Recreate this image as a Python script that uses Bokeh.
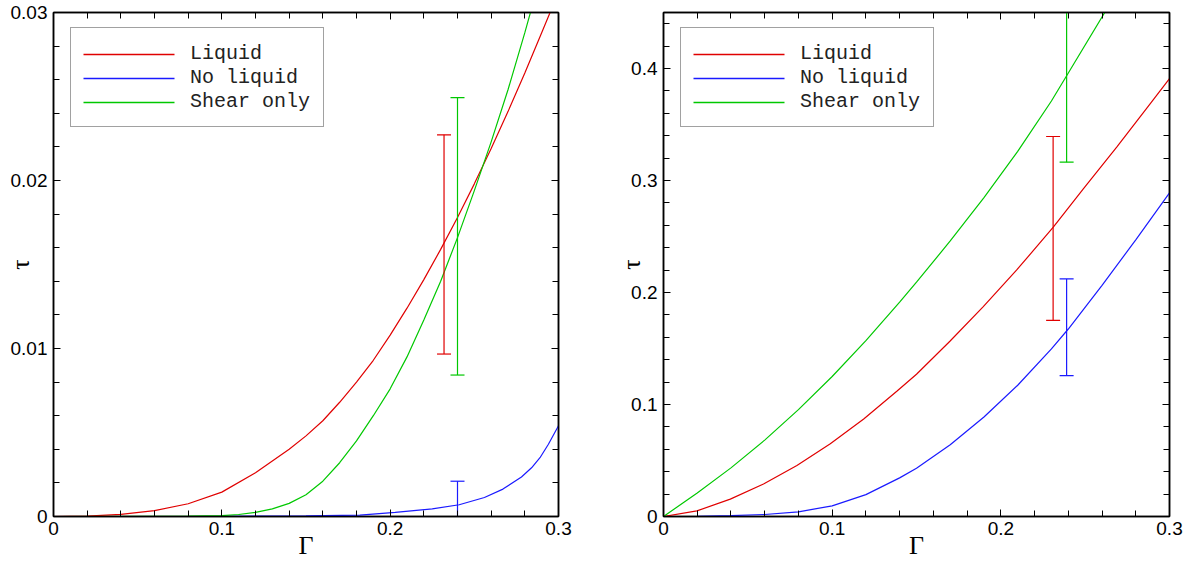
from bokeh.plotting import figure
from bokeh.layouts import row
from bokeh.models import (LinearAxis, FixedTicker, CustomJSTickFormatter,
                          Range1d, Legend, LegendItem, Arrow)
from bokeh.embed import file_html
from bokeh.resources import INLINE

# ---------------- data ----------------
# Left panel
left_liquid_g = [0.0, 0.02, 0.04, 0.06, 0.08, 0.10, 0.12, 0.14, 0.15, 0.16, 0.17,
                 0.18, 0.19, 0.20, 0.21, 0.22, 0.23, 0.24, 0.25, 0.26, 0.27, 0.28,
                 0.29, 0.30]
left_liquid_t = [0.0, 0.00002, 0.00013, 0.00035, 0.00076, 0.00145, 0.0026, 0.0040,
                 0.0048, 0.0057, 0.0068, 0.0080, 0.0093, 0.0108, 0.0124, 0.0141,
                 0.0159, 0.0178, 0.0198, 0.0219, 0.0241, 0.0264, 0.0288, 0.0312]

left_noliq_g = [0.0, 0.10, 0.15, 0.182, 0.203, 0.225, 0.241, 0.256, 0.267, 0.278,
                0.284, 0.289, 0.294, 0.30]
left_noliq_t = [0.0, 0.00001, 0.00004, 0.00008, 0.00024, 0.00045, 0.0007, 0.00113,
                0.00163, 0.00235, 0.0029, 0.0035, 0.0043, 0.0054]

left_shear_g = [0.0, 0.06, 0.08, 0.10, 0.11, 0.12, 0.13, 0.14, 0.15, 0.16, 0.17, 0.18,
                0.19, 0.20, 0.21, 0.22, 0.23, 0.24, 0.25, 0.26, 0.27, 0.28, 0.29]
left_shear_t = [0.0, 0.00001, 0.00002, 0.00005, 0.00012, 0.00025, 0.00045, 0.00078,
                0.0013, 0.0021, 0.0032, 0.0045, 0.0060, 0.0076, 0.0095, 0.0117,
                0.0140, 0.0166, 0.0194, 0.0223, 0.0254, 0.0288, 0.0324]

# error bars: gamma, lower, upper  (Liquid, No liquid, Shear only)
left_err_g = [0.232, 0.240, 0.240]
left_err_lo = [0.00967, -0.0011, 0.00842]
left_err_hi = [0.02272, 0.0021, 0.02493]

# Right panel
right_liquid_g = [0.0, 0.0198, 0.0396, 0.0593, 0.0791, 0.0989, 0.1187, 0.1385, 0.15,
                  0.1698, 0.1896, 0.2093, 0.2311, 0.2489, 0.2687, 0.2885, 0.2984, 0.30]
right_liquid_t = [0.0, 0.005, 0.0155, 0.029, 0.0455, 0.065, 0.087, 0.112, 0.127,
                  0.1565, 0.1874, 0.2199, 0.2583, 0.2925, 0.3298, 0.3685, 0.3879, 0.391]

right_noliq_g = [0.0, 0.02, 0.04, 0.06, 0.08, 0.10, 0.12, 0.14, 0.15, 0.17, 0.19,
                 0.21, 0.23, 0.24, 0.26, 0.28, 0.30]
right_noliq_t = [0.0, 0.0002, 0.0007, 0.0018, 0.0042, 0.0095, 0.0195, 0.0345, 0.0430,
                 0.0640, 0.0888, 0.1172, 0.1496, 0.1674, 0.2064, 0.2470, 0.2890]

right_shear_g = [0.0, 0.02, 0.04, 0.06, 0.08, 0.10, 0.12, 0.14, 0.15, 0.17, 0.19,
                 0.21, 0.23, 0.24, 0.262, 0.27]
right_shear_t = [0.0, 0.021, 0.0434, 0.0682, 0.0954, 0.125, 0.157, 0.1914, 0.2092,
                 0.246, 0.2848, 0.326, 0.371, 0.396, 0.451, 0.471]

right_err_g = [0.231, 0.239, 0.239]
right_err_lo = [0.1752, 0.1257, 0.3164]
right_err_hi = [0.3393, 0.2121, 0.52]

series_names = ["Liquid", "No liquid", "Shear only"]
series_colors = ["#e00000", "#1a1aff", "#00c800"]

x_major = [0.0, 0.1, 0.2, 0.3]
left_y_major = [0.0, 0.01, 0.02, 0.03]
right_y_major = [0.0, 0.1, 0.2, 0.3, 0.4]

TICK_FONT = "Liberation Sans"
SERIF = "Liberation Serif"

FRAME_H = 504
LEG_X, LEG_Y = 17, 389          # legend bottom-left corner, screen px from frame
LEG_PAD, LEG_ROW, LEG_GLYPH_W = 13, 24, 91


def minor_list(step, stop):
    n = int(round(stop / step))
    return [round(i * step, 6) for i in range(n + 1)]


fmt_code = "return String(Number(tick.toPrecision(6)))"


def style_axis(ax, show_labels, standoff):
    ax.axis_line_color = "black"
    ax.axis_line_width = 1.5
    ax.major_tick_in = 7
    ax.major_tick_out = 0
    ax.minor_tick_in = 6
    ax.minor_tick_out = 0
    ax.major_tick_line_color = "black"
    ax.minor_tick_line_color = "black"
    ax.major_tick_line_width = 1
    ax.minor_tick_line_width = 1
    ax.formatter = CustomJSTickFormatter(code=fmt_code)
    ax.major_label_text_font = TICK_FONT
    if show_labels:
        ax.major_label_text_color = "black"
        ax.major_label_text_font_size = "19px"
        ax.major_label_standoff = standoff
    else:
        ax.major_label_text_color = None
        ax.major_label_text_font_size = "1px"
        ax.major_label_standoff = 0


def make_panel(ymax, y_major, y_minor_step, curves, err, border_left, border_right,
               frame_w, ylabel_standoff):
    p = figure(frame_width=frame_w, frame_height=FRAME_H,
               x_range=Range1d(0, 0.3), y_range=Range1d(0, ymax),
               min_border_left=border_left, min_border_right=border_right,
               min_border_top=12, min_border_bottom=45,
               output_backend="svg", toolbar_location=None,
               background_fill_color="white", border_fill_color="white")
    p.xgrid.visible = False
    p.ygrid.visible = False
    p.outline_line_color = "black"
    p.outline_line_width = 1.5

    xt = FixedTicker(ticks=x_major, minor_ticks=minor_list(0.02, 0.3))
    yt = FixedTicker(ticks=y_major, minor_ticks=minor_list(y_minor_step, ymax))
    p.xaxis.ticker = xt
    p.yaxis.ticker = yt
    style_axis(p.xaxis[0], True, 5)
    style_axis(p.yaxis[0], True, 6)

    xa = p.xaxis[0]
    xa.axis_label = "Γ"
    xa.axis_label_text_font = SERIF
    xa.axis_label_text_font_size = "26px"
    xa.axis_label_text_font_style = "normal"
    xa.axis_label_text_color = "black"
    xa.axis_label_standoff = -7

    ya = p.yaxis[0]
    ya.axis_label = "τ"
    ya.axis_label_text_font = SERIF
    ya.axis_label_text_font_size = "26px"
    ya.axis_label_text_font_style = "normal"
    ya.axis_label_text_color = "black"
    ya.axis_label_standoff = ylabel_standoff

    top = LinearAxis(ticker=xt)
    right = LinearAxis(ticker=yt)
    style_axis(top, False, 0)
    style_axis(right, False, 0)
    p.add_layout(top, "above")
    p.add_layout(right, "right")

    items = []
    samples = []
    for k, ((g, t), name, col) in enumerate(zip(curves, series_names, series_colors)):
        p.line(g, t, line_color=col, line_width=1.2)
        # invisible stand-in renderer so the legend only supplies box + label
        proxy = p.line([g[0]], [t[0]], line_color=col, line_alpha=0)
        items.append(LegendItem(label=name, renderers=[proxy]))
        # coloured sample line of the legend row, in screen units
        yrow = LEG_Y + 2 * LEG_PAD + 3 * LEG_ROW - LEG_PAD - LEG_ROW / 2 - k * LEG_ROW
        samples.append(Arrow(end=None, start=None,
                             x_start=LEG_X + LEG_PAD, y_start=yrow,
                             x_end=LEG_X + LEG_PAD + LEG_GLYPH_W, y_end=yrow,
                             start_units="screen", end_units="screen",
                             line_color=col, line_width=1.3, level="overlay"))

    eg, elo, ehi = err
    for i, col in enumerate(series_colors):
        p.segment(x0=[eg[i]], y0=[elo[i]], x1=[eg[i]], y1=[ehi[i]],
                  line_color=col, line_width=1.2)
        p.scatter(x=[eg[i], eg[i]], y=[elo[i], ehi[i]], marker="dash", size=14,
                  line_color=col, line_width=1.2)

    leg = Legend(items=items, location=(LEG_X, LEG_Y))
    leg.padding = LEG_PAD
    leg.spacing = 0
    leg.margin = 0
    leg.glyph_width = LEG_GLYPH_W
    leg.glyph_height = LEG_ROW
    leg.label_height = LEG_ROW
    leg.label_standoff = 15
    leg.label_text_font = "Liberation Mono"
    leg.label_text_font_size = "20px"
    leg.label_text_color = "#222222"
    leg.border_line_color = "#444444"
    leg.border_line_width = 1
    leg.background_fill_color = "white"
    leg.background_fill_alpha = 0.0
    p.add_layout(leg, "center")
    for s in samples:
        p.add_layout(s)
    return p


p1 = make_panel(0.03, left_y_major, 0.002,
                [(left_liquid_g, left_liquid_t), (left_noliq_g, left_noliq_t),
                 (left_shear_g, left_shear_t)],
                (left_err_g, left_err_lo, left_err_hi),
                53, 20, 505, -27)
p2 = make_panel(0.45, right_y_major, 0.02,
                [(right_liquid_g, right_liquid_t), (right_noliq_g, right_noliq_t),
                 (right_shear_g, right_shear_t)],
                (right_err_g, right_err_lo, right_err_hi),
                85, 16, 506, -18)

layout = row(p1, p2)
open("out.html", "w").write(file_html(layout, INLINE))
